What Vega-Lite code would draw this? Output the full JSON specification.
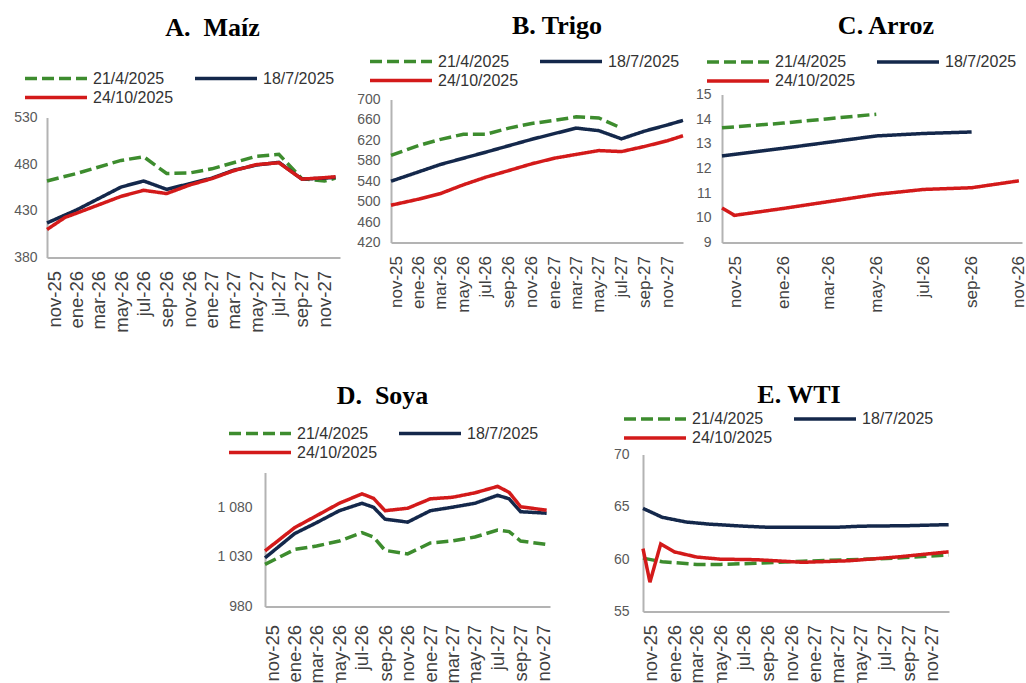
{
  "$schema": "https://vega.github.io/schema/vega-lite/v6.json",
  "padding": {"left": 13, "top": 12.5, "right": 0, "bottom": 0},
  "background": "white",
  "config": {
    "view": {"stroke": null},
    "axis": {"grid": false, "ticks": false, "domainColor": "#b3b3b3", "domainWidth": 2, "labelFont": "Liberation Sans", "labelFlush": false, "labelOverlap": false, "title": null},
    "axisY": {"labelFontSize": 14, "labelColor": "#595959"},
    "axisX": {"labelFontSize": 17, "labelColor": "#404040", "labelAngle": 270, "labelPadding": 13},
    "legend": {"orient": "none", "direction": "horizontal", "columns": 2, "columnPadding": 19, "rowPadding": 1, "clipHeight": 18, "symbolType": "stroke", "symbolSize": 3844, "symbolStrokeWidth": 4, "labelFont": "Liberation Sans", "labelFontSize": 16, "labelColor": "#333333", "labelOffset": 4, "padding": 0, "title": null},
    "title": {"font": "Liberation Serif", "fontSize": 26, "fontWeight": "bold", "color": "#000000", "anchor": "middle", "frame": "group", "baseline": "bottom"},
    "line": {"strokeWidth": 3.5, "strokeCap": "butt"}
  },
  "datasets": {
    "maiz": [
      {"fecha": "2025-10-13", "serie": "21/4/2025", "valor": 462},
      {"fecha": "2026-01-01", "serie": "21/4/2025", "valor": 470},
      {"fecha": "2026-05-01", "serie": "21/4/2025", "valor": 484},
      {"fecha": "2026-07-01", "serie": "21/4/2025", "valor": 488},
      {"fecha": "2026-09-01", "serie": "21/4/2025", "valor": 470},
      {"fecha": "2026-11-01", "serie": "21/4/2025", "valor": 470.5},
      {"fecha": "2027-01-01", "serie": "21/4/2025", "valor": 475},
      {"fecha": "2027-05-01", "serie": "21/4/2025", "valor": 488.5},
      {"fecha": "2027-07-01", "serie": "21/4/2025", "valor": 490.5},
      {"fecha": "2027-09-01", "serie": "21/4/2025", "valor": 464.5},
      {"fecha": "2027-11-01", "serie": "21/4/2025", "valor": 462},
      {"fecha": "2027-12-01", "serie": "21/4/2025", "valor": 465},
      {"fecha": "2025-10-13", "serie": "18/7/2025", "valor": 417},
      {"fecha": "2026-01-01", "serie": "18/7/2025", "valor": 431},
      {"fecha": "2026-05-01", "serie": "18/7/2025", "valor": 455.5},
      {"fecha": "2026-07-01", "serie": "18/7/2025", "valor": 462},
      {"fecha": "2026-09-01", "serie": "18/7/2025", "valor": 453},
      {"fecha": "2026-11-01", "serie": "18/7/2025", "valor": 459},
      {"fecha": "2027-01-01", "serie": "18/7/2025", "valor": 465},
      {"fecha": "2027-03-01", "serie": "18/7/2025", "valor": 473.5},
      {"fecha": "2027-05-01", "serie": "18/7/2025", "valor": 479},
      {"fecha": "2027-07-01", "serie": "18/7/2025", "valor": 482},
      {"fecha": "2027-09-01", "serie": "18/7/2025", "valor": 464},
      {"fecha": "2027-11-01", "serie": "18/7/2025", "valor": 465},
      {"fecha": "2027-12-01", "serie": "18/7/2025", "valor": 466},
      {"fecha": "2025-10-13", "serie": "24/10/2025", "valor": 410},
      {"fecha": "2025-12-01", "serie": "24/10/2025", "valor": 423},
      {"fecha": "2026-01-01", "serie": "24/10/2025", "valor": 427.5},
      {"fecha": "2026-05-01", "serie": "24/10/2025", "valor": 445.5},
      {"fecha": "2026-07-01", "serie": "24/10/2025", "valor": 452},
      {"fecha": "2026-09-01", "serie": "24/10/2025", "valor": 448.5},
      {"fecha": "2026-11-01", "serie": "24/10/2025", "valor": 457.5},
      {"fecha": "2027-01-01", "serie": "24/10/2025", "valor": 464.5},
      {"fecha": "2027-03-01", "serie": "24/10/2025", "valor": 473},
      {"fecha": "2027-05-01", "serie": "24/10/2025", "valor": 479.5},
      {"fecha": "2027-07-01", "serie": "24/10/2025", "valor": 481.5},
      {"fecha": "2027-09-01", "serie": "24/10/2025", "valor": 464},
      {"fecha": "2027-11-01", "serie": "24/10/2025", "valor": 465.5},
      {"fecha": "2027-12-01", "serie": "24/10/2025", "valor": 466.5}
    ],
    "trigo": [
      {"fecha": "2025-10-18", "serie": "21/4/2025", "valor": 590.5},
      {"fecha": "2026-01-01", "serie": "21/4/2025", "valor": 610},
      {"fecha": "2026-03-01", "serie": "21/4/2025", "valor": 622},
      {"fecha": "2026-05-01", "serie": "21/4/2025", "valor": 632},
      {"fecha": "2026-07-01", "serie": "21/4/2025", "valor": 632},
      {"fecha": "2026-09-01", "serie": "21/4/2025", "valor": 644},
      {"fecha": "2026-11-01", "serie": "21/4/2025", "valor": 653},
      {"fecha": "2027-01-01", "serie": "21/4/2025", "valor": 659},
      {"fecha": "2027-03-01", "serie": "21/4/2025", "valor": 666},
      {"fecha": "2027-05-01", "serie": "21/4/2025", "valor": 664},
      {"fecha": "2027-07-01", "serie": "21/4/2025", "valor": 644},
      {"fecha": "2025-10-18", "serie": "18/7/2025", "valor": 540},
      {"fecha": "2026-03-01", "serie": "18/7/2025", "valor": 573},
      {"fecha": "2026-07-01", "serie": "18/7/2025", "valor": 597},
      {"fecha": "2026-11-01", "serie": "18/7/2025", "valor": 622},
      {"fecha": "2027-03-01", "serie": "18/7/2025", "valor": 644},
      {"fecha": "2027-05-01", "serie": "18/7/2025", "valor": 639},
      {"fecha": "2027-07-01", "serie": "18/7/2025", "valor": 623},
      {"fecha": "2027-09-01", "serie": "18/7/2025", "valor": 638},
      {"fecha": "2027-11-01", "serie": "18/7/2025", "valor": 650},
      {"fecha": "2027-12-14", "serie": "18/7/2025", "valor": 659},
      {"fecha": "2025-10-18", "serie": "24/10/2025", "valor": 493},
      {"fecha": "2026-01-01", "serie": "24/10/2025", "valor": 505},
      {"fecha": "2026-03-01", "serie": "24/10/2025", "valor": 516},
      {"fecha": "2026-05-01", "serie": "24/10/2025", "valor": 533},
      {"fecha": "2026-07-01", "serie": "24/10/2025", "valor": 548},
      {"fecha": "2026-09-01", "serie": "24/10/2025", "valor": 561},
      {"fecha": "2026-11-01", "serie": "24/10/2025", "valor": 574},
      {"fecha": "2027-01-01", "serie": "24/10/2025", "valor": 585},
      {"fecha": "2027-03-01", "serie": "24/10/2025", "valor": 592.5},
      {"fecha": "2027-05-01", "serie": "24/10/2025", "valor": 600},
      {"fecha": "2027-07-01", "serie": "24/10/2025", "valor": 598},
      {"fecha": "2027-09-01", "serie": "24/10/2025", "valor": 608},
      {"fecha": "2027-11-01", "serie": "24/10/2025", "valor": 619},
      {"fecha": "2027-12-14", "serie": "24/10/2025", "valor": 629}
    ],
    "arroz": [
      {"fecha": "2025-10-14", "serie": "21/4/2025", "valor": 13.65},
      {"fecha": "2026-01-01", "serie": "21/4/2025", "valor": 13.84},
      {"fecha": "2026-03-01", "serie": "21/4/2025", "valor": 14.02},
      {"fecha": "2026-05-01", "serie": "21/4/2025", "valor": 14.2},
      {"fecha": "2025-10-14", "serie": "18/7/2025", "valor": 12.51},
      {"fecha": "2026-01-01", "serie": "18/7/2025", "valor": 12.82},
      {"fecha": "2026-05-01", "serie": "18/7/2025", "valor": 13.32},
      {"fecha": "2026-07-01", "serie": "18/7/2025", "valor": 13.42},
      {"fecha": "2026-09-01", "serie": "18/7/2025", "valor": 13.48},
      {"fecha": "2025-10-14", "serie": "24/10/2025", "valor": 10.4},
      {"fecha": "2025-10-30", "serie": "24/10/2025", "valor": 10.1},
      {"fecha": "2026-01-01", "serie": "24/10/2025", "valor": 10.38},
      {"fecha": "2026-05-01", "serie": "24/10/2025", "valor": 10.95},
      {"fecha": "2026-07-01", "serie": "24/10/2025", "valor": 11.15},
      {"fecha": "2026-09-01", "serie": "24/10/2025", "valor": 11.22},
      {"fecha": "2026-11-01", "serie": "24/10/2025", "valor": 11.5}
    ],
    "soya": [
      {"fecha": "2025-10-13", "serie": "21/4/2025", "valor": 1022.5},
      {"fecha": "2026-01-01", "serie": "21/4/2025", "valor": 1037.5},
      {"fecha": "2026-03-01", "serie": "21/4/2025", "valor": 1041},
      {"fecha": "2026-05-01", "serie": "21/4/2025", "valor": 1046},
      {"fecha": "2026-07-01", "serie": "21/4/2025", "valor": 1054.5},
      {"fecha": "2026-08-01", "serie": "21/4/2025", "valor": 1050},
      {"fecha": "2026-09-01", "serie": "21/4/2025", "valor": 1036.5},
      {"fecha": "2026-11-01", "serie": "21/4/2025", "valor": 1033},
      {"fecha": "2027-01-01", "serie": "21/4/2025", "valor": 1044},
      {"fecha": "2027-03-01", "serie": "21/4/2025", "valor": 1046},
      {"fecha": "2027-05-01", "serie": "21/4/2025", "valor": 1050},
      {"fecha": "2027-07-01", "serie": "21/4/2025", "valor": 1057},
      {"fecha": "2027-08-01", "serie": "21/4/2025", "valor": 1055.5},
      {"fecha": "2027-09-01", "serie": "21/4/2025", "valor": 1046},
      {"fecha": "2027-11-10", "serie": "21/4/2025", "valor": 1042.5},
      {"fecha": "2025-10-13", "serie": "18/7/2025", "valor": 1029},
      {"fecha": "2026-01-01", "serie": "18/7/2025", "valor": 1053.5},
      {"fecha": "2026-03-01", "serie": "18/7/2025", "valor": 1064.5},
      {"fecha": "2026-05-01", "serie": "18/7/2025", "valor": 1076.5},
      {"fecha": "2026-07-01", "serie": "18/7/2025", "valor": 1084},
      {"fecha": "2026-08-01", "serie": "18/7/2025", "valor": 1080},
      {"fecha": "2026-09-01", "serie": "18/7/2025", "valor": 1068},
      {"fecha": "2026-11-01", "serie": "18/7/2025", "valor": 1065},
      {"fecha": "2027-01-01", "serie": "18/7/2025", "valor": 1076.5},
      {"fecha": "2027-03-01", "serie": "18/7/2025", "valor": 1080},
      {"fecha": "2027-05-01", "serie": "18/7/2025", "valor": 1084},
      {"fecha": "2027-07-01", "serie": "18/7/2025", "valor": 1092},
      {"fecha": "2027-08-01", "serie": "18/7/2025", "valor": 1088.5},
      {"fecha": "2027-09-01", "serie": "18/7/2025", "valor": 1075.5},
      {"fecha": "2027-11-10", "serie": "18/7/2025", "valor": 1074},
      {"fecha": "2025-10-13", "serie": "24/10/2025", "valor": 1036},
      {"fecha": "2026-01-01", "serie": "24/10/2025", "valor": 1059.5},
      {"fecha": "2026-03-01", "serie": "24/10/2025", "valor": 1071.5},
      {"fecha": "2026-05-01", "serie": "24/10/2025", "valor": 1084},
      {"fecha": "2026-07-01", "serie": "24/10/2025", "valor": 1093.5},
      {"fecha": "2026-08-01", "serie": "24/10/2025", "valor": 1089},
      {"fecha": "2026-09-01", "serie": "24/10/2025", "valor": 1076.5},
      {"fecha": "2026-11-01", "serie": "24/10/2025", "valor": 1079},
      {"fecha": "2027-01-01", "serie": "24/10/2025", "valor": 1088.5},
      {"fecha": "2027-03-01", "serie": "24/10/2025", "valor": 1090},
      {"fecha": "2027-05-01", "serie": "24/10/2025", "valor": 1094.5},
      {"fecha": "2027-07-01", "serie": "24/10/2025", "valor": 1101},
      {"fecha": "2027-08-01", "serie": "24/10/2025", "valor": 1095},
      {"fecha": "2027-09-01", "serie": "24/10/2025", "valor": 1080.5},
      {"fecha": "2027-11-10", "serie": "24/10/2025", "valor": 1077}
    ],
    "wti": [
      {"fecha": "2025-10-12", "serie": "21/4/2025", "valor": 60.1},
      {"fecha": "2025-12-01", "serie": "21/4/2025", "valor": 59.75},
      {"fecha": "2026-03-01", "serie": "21/4/2025", "valor": 59.5},
      {"fecha": "2026-05-01", "serie": "21/4/2025", "valor": 59.5},
      {"fecha": "2026-08-01", "serie": "21/4/2025", "valor": 59.6},
      {"fecha": "2026-12-01", "serie": "21/4/2025", "valor": 59.8},
      {"fecha": "2027-04-01", "serie": "21/4/2025", "valor": 59.95},
      {"fecha": "2027-08-01", "serie": "21/4/2025", "valor": 60.1},
      {"fecha": "2027-12-15", "serie": "21/4/2025", "valor": 60.4},
      {"fecha": "2025-10-12", "serie": "18/7/2025", "valor": 64.85},
      {"fecha": "2025-12-01", "serie": "18/7/2025", "valor": 64.0},
      {"fecha": "2026-02-01", "serie": "18/7/2025", "valor": 63.55},
      {"fecha": "2026-04-01", "serie": "18/7/2025", "valor": 63.35},
      {"fecha": "2026-07-01", "serie": "18/7/2025", "valor": 63.15},
      {"fecha": "2026-09-01", "serie": "18/7/2025", "valor": 63.05},
      {"fecha": "2027-03-01", "serie": "18/7/2025", "valor": 63.05},
      {"fecha": "2027-05-01", "serie": "18/7/2025", "valor": 63.15},
      {"fecha": "2027-09-01", "serie": "18/7/2025", "valor": 63.2},
      {"fecha": "2027-12-15", "serie": "18/7/2025", "valor": 63.3},
      {"fecha": "2025-10-12", "serie": "24/10/2025", "valor": 61.0},
      {"fecha": "2025-10-30", "serie": "24/10/2025", "valor": 57.8},
      {"fecha": "2025-11-27", "serie": "24/10/2025", "valor": 61.45},
      {"fecha": "2026-01-01", "serie": "24/10/2025", "valor": 60.7},
      {"fecha": "2026-03-01", "serie": "24/10/2025", "valor": 60.2},
      {"fecha": "2026-05-01", "serie": "24/10/2025", "valor": 60.0},
      {"fecha": "2026-08-01", "serie": "24/10/2025", "valor": 59.95},
      {"fecha": "2026-12-01", "serie": "24/10/2025", "valor": 59.7},
      {"fecha": "2027-04-01", "serie": "24/10/2025", "valor": 59.85},
      {"fecha": "2027-08-01", "serie": "24/10/2025", "valor": 60.2},
      {"fecha": "2027-12-15", "serie": "24/10/2025", "valor": 60.7}
    ]
  },
  "vconcat": [
    {
      "hconcat": [
        {
          "data": {"name": "maiz"},
          "width": 293, "height": 163,
          "title": {"text": "A.\u00a0 Maíz", "dx": 19, "offset": 28.5},
          "mark": {"type": "line"},
          "encoding": {
            "x": {"field": "fecha", "type": "temporal", "scale": {"type": "utc", "domain": [{"year": 2025, "month": 10, "date": 13, "utc": true}, {"year": 2027, "month": 12, "date": 13, "utc": true}]}, "axis": {"labelFontSize": 18.5, "tickCount": {"interval": "month", "step": 2}, "labelExpr": "['ene','feb','mar','abr','may','jun','jul','ago','sep','oct','nov','dic'][utcmonth(datum.value)] + '-' + utcFormat(datum.value, '%y')"}},
            "y": {"field": "valor", "type": "quantitative", "scale": {"domain": [380, 530], "range": [163, 23], "zero": false, "nice": false}, "axis": {"values": [380, 430, 480, 530], "labelPadding": 10}},
            "color": {"field": "serie", "type": "nominal", "scale": {"domain": ["21/4/2025", "18/7/2025", "24/10/2025"], "range": ["#3d8c2e", "#14284b", "#d31a1a"]}, "legend": {"legendX": -24, "legendY": -25}},
            "strokeDash": {"field": "serie", "type": "nominal", "scale": {"domain": ["21/4/2025", "18/7/2025", "24/10/2025"], "range": [[12, 5], [1, 0], [1, 0]]}, "legend": {"legendX": -24, "legendY": -25}}
          }
        },
        {
          "hconcat": [
            {
              "data": {"name": "trigo"},
              "width": 292, "height": 148,
              "title": {"text": "B. Trigo", "dx": 20, "offset": 13.5},
              "mark": {"type": "line"},
              "encoding": {
                "x": {"field": "fecha", "type": "temporal", "scale": {"type": "utc", "domain": [{"year": 2025, "month": 10, "date": 18, "utc": true}, {"year": 2027, "month": 12, "date": 14, "utc": true}]}, "axis": {"tickCount": {"interval": "month", "step": 2}, "labelExpr": "['ene','feb','mar','abr','may','jun','jul','ago','sep','oct','nov','dic'][utcmonth(datum.value)] + '-' + utcFormat(datum.value, '%y')"}},
                "y": {"field": "valor", "type": "quantitative", "scale": {"domain": [420, 700], "range": [148, 5], "zero": false, "nice": false}, "axis": {"values": [420, 460, 500, 540, 580, 620, 660, 700], "labelPadding": 11}},
                "color": {"field": "serie", "type": "nominal", "scale": {"domain": ["21/4/2025", "18/7/2025", "24/10/2025"], "range": ["#3d8c2e", "#14284b", "#d31a1a"]}, "legend": {"legendX": -23, "legendY": -42}},
                "strokeDash": {"field": "serie", "type": "nominal", "scale": {"domain": ["21/4/2025", "18/7/2025", "24/10/2025"], "range": [[12, 5], [1, 0], [1, 0]]}, "legend": {"legendX": -23, "legendY": -42}}
              }
            },
            {
              "data": {"name": "arroz"},
              "width": 300, "height": 148,
              "title": {"text": "C. Arroz", "dx": 14, "offset": 14},
              "mark": {"type": "line"},
              "encoding": {
                "x": {"field": "fecha", "type": "temporal", "scale": {"type": "utc", "domain": [{"year": 2025, "month": 10, "date": 14, "utc": true}, {"year": 2026, "month": 11, "date": 5, "utc": true}]}, "axis": {"tickCount": {"interval": "month", "step": 2}, "labelExpr": "['ene','feb','mar','abr','may','jun','jul','ago','sep','oct','nov','dic'][utcmonth(datum.value)] + '-' + utcFormat(datum.value, '%y')"}},
                "y": {"field": "valor", "type": "quantitative", "scale": {"domain": [9, 15], "zero": false, "nice": false}, "axis": {"values": [9, 10, 11, 12, 13, 14, 15], "labelPadding": 11}},
                "color": {"field": "serie", "type": "nominal", "scale": {"domain": ["21/4/2025", "18/7/2025", "24/10/2025"], "range": ["#3d8c2e", "#14284b", "#d31a1a"]}, "legend": {"legendX": -17, "legendY": -41.5}},
                "strokeDash": {"field": "serie", "type": "nominal", "scale": {"domain": ["21/4/2025", "18/7/2025", "24/10/2025"], "range": [[12, 5], [1, 0], [1, 0]]}, "legend": {"legendX": -17, "legendY": -41.5}}
              }
            }
          ],
          "spacing": 5,
          "align": "none",
          "resolve": {"scale": {"color": "independent", "strokeDash": "independent"}, "legend": {"color": "independent", "strokeDash": "independent"}}
        }
      ],
      "spacing": 13,
      "align": "none",
      "resolve": {"scale": {"color": "independent", "strokeDash": "independent"}, "legend": {"color": "independent", "strokeDash": "independent"}}
    },
    {
      "hconcat": [
        {
          "data": {"values": [{}]},
          "width": 110, "height": 10,
          "mark": {"type": "text", "text": ""},
          "encoding": {}
        },
        {
          "data": {"name": "soya"},
          "width": 285, "height": 152,
          "title": {"text": "D.\u00a0 Soya", "dx": -25, "offset": 15.5},
          "mark": {"type": "line"},
          "encoding": {
            "x": {"field": "fecha", "type": "temporal", "scale": {"type": "utc", "domain": [{"year": 2025, "month": 10, "date": 13, "utc": true}, {"year": 2027, "month": 11, "date": 19, "utc": true}]}, "axis": {"labelFontSize": 18.5, "labelPadding": 18, "tickCount": {"interval": "month", "step": 2}, "labelExpr": "['ene','feb','mar','abr','may','jun','jul','ago','sep','oct','nov','dic'][utcmonth(datum.value)] + '-' + utcFormat(datum.value, '%y')"}},
            "y": {"field": "valor", "type": "quantitative", "scale": {"domain": [980, 1115], "range": [152, 18], "zero": false, "nice": false}, "axis": {"values": [980, 1030, 1080], "labelPadding": 13, "labelExpr": "replace(format(datum.value, ','), ',', ' ')"}},
            "color": {"field": "serie", "type": "nominal", "scale": {"domain": ["21/4/2025", "18/7/2025", "24/10/2025"], "range": ["#3d8c2e", "#14284b", "#d31a1a"]}, "legend": {"legendX": -38, "legendY": -30}},
            "strokeDash": {"field": "serie", "type": "nominal", "scale": {"domain": ["21/4/2025", "18/7/2025", "24/10/2025"], "range": [[12, 5], [1, 0], [1, 0]]}, "legend": {"legendX": -38, "legendY": -30}}
          }
        },
        {
          "data": {"name": "wti"},
          "width": 306, "height": 157,
          "title": {"text": "E. WTI", "dx": 3, "offset": 2},
          "mark": {"type": "line"},
          "encoding": {
            "x": {"field": "fecha", "type": "temporal", "scale": {"type": "utc", "domain": [{"year": 2025, "month": 10, "date": 12, "utc": true}, {"year": 2027, "month": 12, "date": 16, "utc": true}]}, "axis": {"labelFontSize": 18.5, "tickCount": {"interval": "month", "step": 2}, "labelExpr": "['ene','feb','mar','abr','may','jun','jul','ago','sep','oct','nov','dic'][utcmonth(datum.value)] + '-' + utcFormat(datum.value, '%y')"}},
            "y": {"field": "valor", "type": "quantitative", "scale": {"domain": [55, 70], "zero": false, "nice": false}, "axis": {"values": [55, 60, 65, 70], "labelPadding": 14}},
            "color": {"field": "serie", "type": "nominal", "scale": {"domain": ["21/4/2025", "18/7/2025", "24/10/2025"], "range": ["#3d8c2e", "#14284b", "#d31a1a"]}, "legend": {"legendX": -21, "legendY": -44.5}},
            "strokeDash": {"field": "serie", "type": "nominal", "scale": {"domain": ["21/4/2025", "18/7/2025", "24/10/2025"], "range": [[12, 5], [1, 0], [1, 0]]}, "legend": {"legendX": -21, "legendY": -44.5}}
          }
        }
      ],
      "spacing": 59,
      "align": "none",
      "resolve": {"scale": {"color": "independent", "strokeDash": "independent"}, "legend": {"color": "independent", "strokeDash": "independent"}}
    }
  ],
  "spacing": 49,
  "resolve": {"scale": {"color": "independent", "strokeDash": "independent"}, "legend": {"color": "independent", "strokeDash": "independent"}}
}
